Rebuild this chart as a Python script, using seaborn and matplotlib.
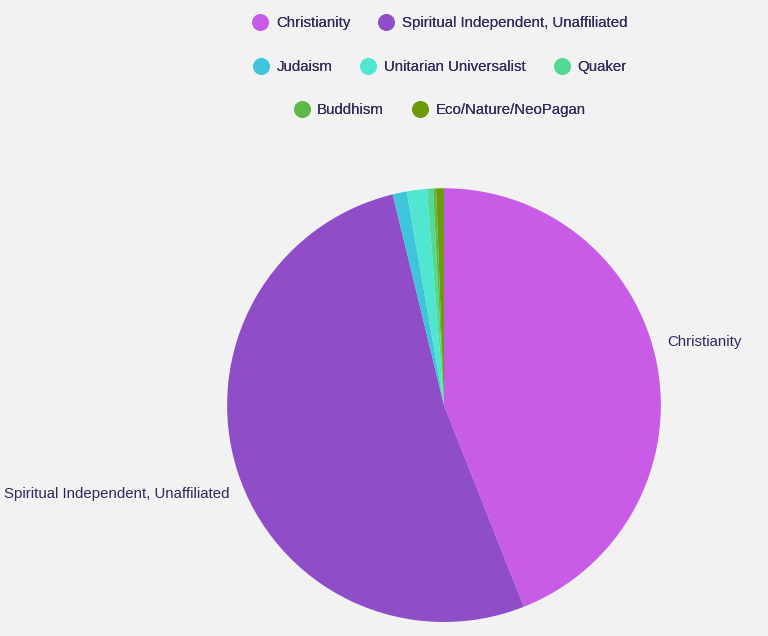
import matplotlib
matplotlib.use("Agg")
import numpy as np
import matplotlib.pyplot as plt
import seaborn as sns
from matplotlib.lines import Line2D

religions = ["Christianity", "Spiritual Independent, Unaffiliated", "Judaism",
             "Unitarian Universalist", "Quaker", "Buddhism", "Eco/Nature/NeoPagan"]
shares = [44.0, 52.2, 1.05, 1.5, 0.45, 0.22, 0.58]
colors = ["#c95ce6", "#8f4ec8", "#3ec5db", "#50e6cf", "#52d993", "#5db847", "#6b9a0b"]
shown_labels = ["Christianity", "Spiritual Independent, Unaffiliated", "", "", "", "", ""]
legend_rows = [[0, 1], [2, 3, 4], [5, 6]]

bg = "#f2f2f2"
txt = "#2e2a5c"
fs = 10.8

sns.set_theme(style="white")
plt.rcParams["font.family"] = ["Liberation Sans", "DejaVu Sans"]
palette = sns.color_palette(colors)

fig = plt.figure(figsize=(7.68, 6.36), dpi=100, facecolor=bg)
ax = fig.add_axes([0.2956, 0.022, 0.565, 0.682])
ax.set_facecolor(bg)

wedges, texts = ax.pie(shares, labels=shown_labels, colors=palette, startangle=90,
                       counterclock=False, labeldistance=1.07,
                       wedgeprops={"linewidth": 0},
                       textprops={"color": txt, "fontsize": fs})
# nudge outer labels the way the original renderer places them
for w, t in zip(wedges, texts):
    mid = np.deg2rad((w.theta1 + w.theta2) / 2 + 5)
    t.set_position((1.07 * np.cos(mid), 1.07 * np.sin(mid)))
    t.set_va("center")
    t.set_clip_on(False)
ax.set_xlim(-1, 1)
ax.set_ylim(-1, 1)
ax.set_aspect("equal")
ax.axis("off")

row_y = [1 - 23 / 636, 1 - 67 / 636, 1 - 110 / 636]
for idxs, y in zip(legend_rows, row_y):
    handles = [Line2D([], [], marker="o", linestyle="", markersize=11,
                      markerfacecolor=colors[i], markeredgecolor=colors[i]) for i in idxs]
    leg = fig.legend(handles, [religions[i] for i in idxs], loc="center",
                     bbox_to_anchor=(440 / 768, y), ncol=len(idxs), frameon=False,
                     fontsize=fs, handlelength=1.0, handletextpad=0.55,
                     columnspacing=1.9, labelcolor=txt)
    fig.add_artist(leg)

fig.savefig("out.png", dpi=100, facecolor=bg)
